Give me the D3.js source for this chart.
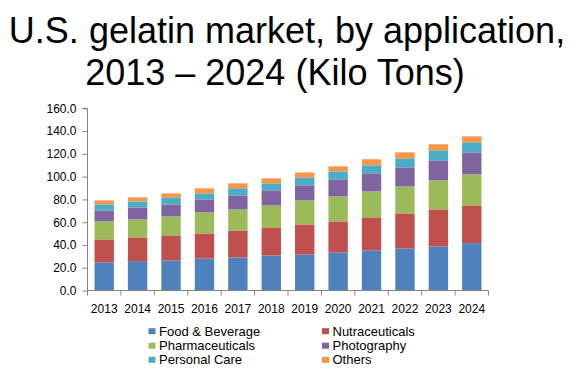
<!DOCTYPE html>
<html>
<head>
<meta charset="utf-8">
<script src="https://cdn.jsdelivr.net/npm/d3@7"></script>
<style>
html,body{margin:0;padding:0;background:#fff;}
svg{display:block;font-family:Arial,"Liberation Sans",sans-serif;}
</style>
</head>
<body>
<svg id="chart" width="576" height="379"></svg>
<script>
const years = ["2013","2014","2015","2016","2017","2018","2019","2020","2021","2022","2023","2024"];
const seriesNames = ["Food & Beverage","Nutraceuticals","Pharmaceuticals","Photography","Personal Care","Others"];
const foodBeverage    = [24.6,25.8,26.4,28.1,29.0,30.8,31.6,33.4,35.2,36.9,38.7,41.6];
const nutraceuticals  = [20.2,20.8,22.0,22.0,23.7,24.6,26.4,27.3,29.0,30.8,32.5,33.1];
const pharmaceuticals = [15.9,15.8,16.7,18.5,18.5,19.3,21.1,21.9,22.8,23.7,25.5,27.3];
const photography     = [9.6,10.6,10.5,11.4,12.3,13.2,13.2,15.0,15.9,16.7,17.6,19.3];
const personalCare    = [5.3,5.2,6.2,5.3,6.2,6.2,7.0,7.0,7.0,7.9,8.8,8.8];
const others          = [3.5,3.6,3.5,4.4,4.4,4.4,4.4,4.4,5.3,5.3,5.3,5.3];
const yTicks = [0,20,40,60,80,100,120,140,160];
const colors = ["#4F81BD","#C0504D","#9BBB59","#8064A2","#4BACC6","#F79646"];

const seriesValues = [foodBeverage,nutraceuticals,pharmaceuticals,photography,personalCare,others];
const table = years.map((y,i)=>{
  const row = {year:y};
  seriesNames.forEach((s,j)=>row[s]=seriesValues[j][i]);
  return row;
});

const svg = d3.select("#chart");

// Title
svg.append("text").attr("x",287).attr("y",43.3).attr("text-anchor","middle")
  .attr("font-size",36).attr("fill","#000").text("U.S. gelatin market, by application,");
svg.append("text").attr("x",275).attr("y",85).attr("text-anchor","middle")
  .attr("font-size",36).attr("fill","#000").text("2013 \u2013 2024 (Kilo Tons)");

const x0 = 87.5, x1 = 488.5, yTop = 108.3, yBot = 290.5;
const x = d3.scaleBand().domain(years).range([x0,x1]).paddingInner(0.42).paddingOuter(0.21);
const y = d3.scaleLinear().domain([0,160]).range([yBot,yTop]);

const stack = d3.stack().keys(seriesNames);
const stacked = stack(table);

svg.append("g").selectAll("g").data(stacked).join("g")
  .attr("fill",(d,i)=>colors[i])
  .selectAll("rect").data(d=>d).join("rect")
  .attr("x",d=>x(d.data.year))
  .attr("width",x.bandwidth())
  .attr("y",d=>y(d[1]))
  .attr("height",d=>y(d[0])-y(d[1]));

const axisColor = "#868686";
// Y axis
const yAxis = d3.axisLeft(y).tickValues(yTicks).tickFormat(d3.format(".1f")).tickSize(5).tickPadding(6);
const gy = svg.append("g").attr("transform",`translate(${x0},0)`).call(yAxis);
gy.select(".domain").attr("stroke",axisColor).attr("d",`M-5,${yTop}H0V${yBot}`);
gy.selectAll(".tick line").attr("stroke",axisColor);
gy.selectAll("text").attr("font-size",12).attr("fill","#000").attr("font-family","Arial,'Liberation Sans',sans-serif");

// X axis
const xAxis = d3.axisBottom(x).tickSize(0).tickPadding(14);
const gx = svg.append("g").attr("transform",`translate(0,${yBot})`).call(xAxis);
gx.select(".domain").attr("stroke",axisColor).attr("d",`M${x0},0H${x1}`);
gx.selectAll("text").attr("font-size",12).attr("fill","#000").attr("font-family","Arial,'Liberation Sans',sans-serif");
const boundaries = d3.range(years.length+1).map(i=>x0 + i*x.step());
gx.selectAll(".bnd").data(boundaries).join("line").attr("class","bnd")
  .attr("x1",d=>d).attr("x2",d=>d).attr("y1",0).attr("y2",5).attr("stroke",axisColor);

// Legend
const legendCols = [148.5, 322];
const legendRows = [331.2, 345.7, 359.8];
const lg = svg.append("g");
seriesNames.forEach((s,i)=>{
  const cx = legendCols[i%2], cy = legendRows[Math.floor(i/2)];
  lg.append("rect").attr("x",cx).attr("y",cy-3).attr("width",7).attr("height",6).attr("fill",colors[i]);
  lg.append("text").attr("x",cx+10.5).attr("y",cy+4.5).attr("font-size",13).attr("fill","#000").text(s);
});
</script>
</body>
</html>
